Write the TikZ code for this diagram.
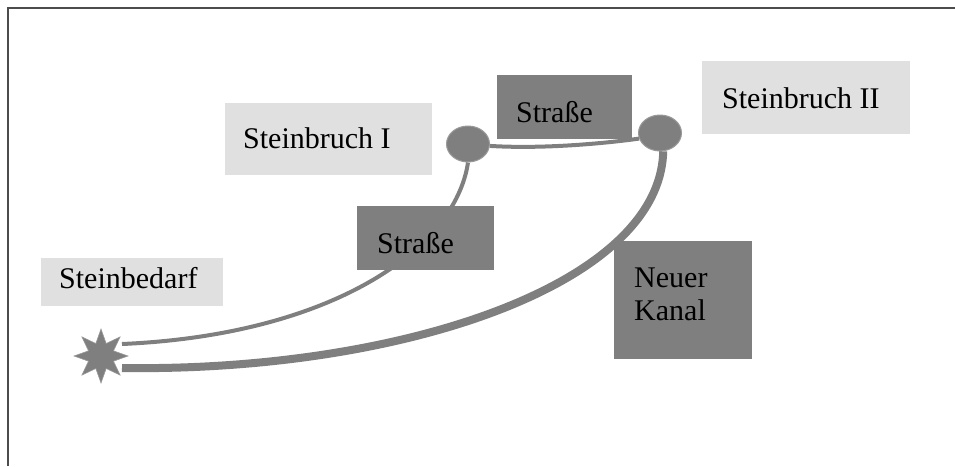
\documentclass[tikz,border=0pt]{standalone}
\usepackage{fontspec}
\setmainfont{Liberation Serif}
\usetikzlibrary{shapes.geometric,backgrounds}
\definecolor{dk}{HTML}{7F7F7F}
\definecolor{lt}{HTML}{E0E0E0}
\definecolor{rim}{HTML}{9A9A9A}
\begin{document}
\begin{tikzpicture}[x=1pt,y=-1pt,
  lightbox/.style={fill=lt,draw=none,inner sep=0pt,anchor=north west},
  darkbox/.style={fill=dk,draw=none,inner sep=0pt,anchor=north west},
  lbl/.style={inner sep=0pt,anchor=base west,font=\fontsize{30}{33}\selectfont,text=black},
  hub/.style={ellipse,fill=dk,draw=rim,line width=1pt,inner sep=0pt,minimum width=43pt,minimum height=36pt},
  road/.style={draw=dk,line width=4pt},
  canal/.style={draw=dk,line width=8pt}]
\useasboundingbox (0,0) rectangle (955,466);
% frame
\draw[line width=2pt,color=black!70] (7.5,466) -- (7.5,7.5) -- (955,7.5);
% boxes
\node[lightbox,minimum width=207pt,minimum height=72pt] (sb1) at (225,103) {};
\node[lightbox,minimum width=208pt,minimum height=73pt] (sb2) at (702,61) {};
\node[lightbox,minimum width=182pt,minimum height=48pt] (sbd) at (41,258) {};
\node[darkbox,minimum width=135pt,minimum height=64pt] (str1) at (497,75) {};
\node[darkbox,minimum width=137pt,minimum height=64pt] (str2) at (357,206) {};
\node[darkbox,minimum width=138pt,minimum height=118pt] (kan) at (614,241) {};
% labels
\node[lbl] (t1) at (243,148) {Steinbruch I};
\node[lbl] (t2) at (722,108) {Steinbruch II};
\node[lbl] (t3) at (59,288) {Steinbedarf};
\node[lbl] (t4) at (516,122) {Straße};
\node[lbl] (t5) at (377,253) {Straße};
\node[lbl] (t6) at (634,287) {Neuer};
\node[lbl] (t7) at (634,320) {Kanal};
% hubs
\node[hub] (lc) at (468,144) {};
\node[hub] (rc) at (660,133) {};
\node[star,star points=8,star point ratio=2,fill=dk,draw=rim,line width=0.6pt,inner sep=0pt,minimum size=54pt] (st) at (101,356) {};
\coordinate (sta) at ([shift={(21,-12)}]st.center);
\coordinate (stb) at ([shift={(21,12)}]st.center);
% connectors
\begin{scope}[on background layer]
\draw[road] (lc.south) .. controls (455,250) and (330,335) .. (sta);
\draw[road] (lc.-5) .. controls (540,149) and (600,144) .. (rc.195);
\draw[canal] (rc.-80) .. controls (660,285) and (400,372) .. (stb);
\end{scope}
\end{tikzpicture}
\end{document}
